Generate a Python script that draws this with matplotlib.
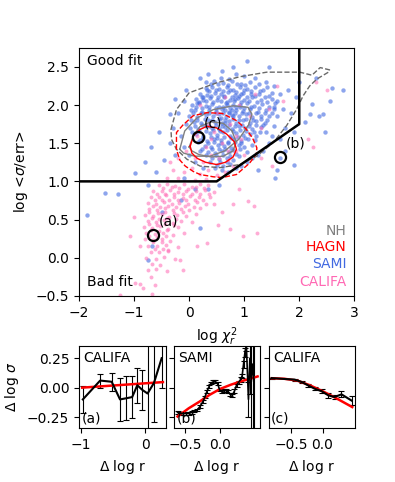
import numpy as np
import matplotlib
matplotlib.use('Agg')
import matplotlib.pyplot as plt

# --- main panel data ---
sami_pts = np.array([
    (0.45,2.31),(0.62,2.29),(0.78,2.32),(0.95,2.28),(1.1,2.3),
    (0.3,2.22),(0.42,2.24),(0.55,2.21),(0.68,2.23),(0.8,2.2),(0.92,2.24),(1.05,2.21),(1.2,2.23),(1.35,2.2),
    (0.2,2.15),(0.33,2.13),(0.47,2.16),(0.58,2.14),(0.7,2.17),(0.83,2.13),(0.97,2.16),(1.12,2.14),(1.27,2.15),(1.45,2.12),
    (0.12,2.08),(0.25,2.06),(0.38,2.09),(0.5,2.07),(0.63,2.1),(0.75,2.06),(0.88,2.09),(1.0,2.07),(1.15,2.1),(1.3,2.06),(1.5,2.08),
    (0.05,2.0),(0.18,2.02),(0.3,1.99),(0.42,2.01),(0.55,1.98),(0.67,2.02),(0.8,2.0),(0.92,1.98),(1.05,2.02),(1.18,1.99),(1.33,2.01),(1.55,1.98),
    (0.1,1.93),(0.24,1.91),(0.37,1.94),(0.48,1.92),(0.6,1.95),(0.72,1.91),(0.85,1.94),(0.98,1.92),(1.1,1.95),(1.25,1.91),(1.4,1.93),
    (0.0,1.86),(0.15,1.84),(0.3,1.87),(0.43,1.85),(0.55,1.88),(0.67,1.84),(0.78,1.87),(0.9,1.85),(1.03,1.88),(1.15,1.84),(1.3,1.86),(1.45,1.85),
    (0.08,1.78),(0.22,1.77),(0.35,1.8),(0.47,1.78),(0.6,1.76),(0.72,1.79),(0.85,1.77),(0.97,1.8),(1.1,1.76),(1.22,1.79),(1.38,1.77),
    (0.02,1.7),(0.17,1.69),(0.3,1.72),(0.42,1.7),(0.55,1.68),(0.66,1.71),(0.78,1.69),(0.9,1.72),(1.02,1.7),(1.15,1.68),(1.3,1.71),
    (0.12,1.62),(0.25,1.6),(0.38,1.63),(0.5,1.61),(0.62,1.64),(0.74,1.6),(0.86,1.63),(0.98,1.61),(1.1,1.62),(1.22,1.6),
    (0.2,1.54),(0.33,1.53),(0.45,1.56),(0.57,1.54),(0.7,1.52),(0.82,1.55),(0.95,1.53),(1.07,1.55),
    (0.28,1.46),(0.4,1.45),(0.52,1.48),(0.64,1.46),(0.76,1.44),(0.9,1.47),(1.0,1.45),
    (0.35,1.38),(0.47,1.37),(0.6,1.4),(0.72,1.38),(0.85,1.36),
    (0.42,1.3),(0.55,1.29),(0.68,1.31),(0.8,1.28),
    (0.5,1.22),(0.62,1.2),(0.74,1.23),
    (0.53,2.27),(0.7,2.26),(0.87,2.27),(1.02,2.26),
    (0.36,2.18),(0.49,2.19),(0.62,2.18),(0.74,2.19),(0.86,2.17),(0.99,2.19),(1.13,2.18),(1.28,2.18),
    (0.26,2.11),(0.4,2.12),(0.52,2.11),(0.64,2.12),(0.77,2.11),(0.9,2.12),(1.05,2.11),(1.2,2.12),(1.37,2.1),
    (0.18,2.04),(0.31,2.05),(0.44,2.04),(0.57,2.05),(0.69,2.04),(0.82,2.05),(0.94,2.04),(1.08,2.05),(1.24,2.04),(1.42,2.04),
    (0.12,1.97),(0.24,1.96),(0.36,1.97),(0.49,1.96),(0.61,1.97),(0.74,1.96),(0.86,1.97),(0.99,1.96),(1.12,1.97),(1.26,1.96),(1.45,1.97),
    (0.07,1.89),(0.22,1.9),(0.37,1.89),(0.49,1.9),(0.61,1.89),(0.73,1.9),(0.84,1.89),(0.96,1.9),(1.09,1.89),(1.22,1.9),(1.37,1.89),
    (0.15,1.81),(0.28,1.82),(0.41,1.81),(0.54,1.82),(0.66,1.81),(0.79,1.82),(0.91,1.81),(1.04,1.82),(1.16,1.81),(1.3,1.82),
    (0.1,1.73),(0.24,1.74),(0.36,1.73),(0.49,1.74),(0.6,1.73),(0.72,1.74),(0.84,1.73),(0.96,1.74),(1.08,1.73),(1.22,1.74),
    (0.18,1.66),(0.31,1.66),(0.44,1.67),(0.56,1.66),(0.68,1.67),(0.8,1.66),(0.92,1.67),(1.04,1.66),(1.17,1.65),
    (0.26,1.57),(0.39,1.58),(0.51,1.57),(0.63,1.58),(0.76,1.57),(0.88,1.58),(1.01,1.57),
    (0.34,1.5),(0.46,1.51),(0.58,1.5),(0.7,1.5),(0.83,1.51),(0.95,1.5),
    (0.41,1.42),(0.54,1.42),(0.66,1.43),(0.79,1.41),(0.92,1.42),
    (0.48,1.34),(0.62,1.34),(0.75,1.33),
    (0.56,1.26),(0.69,1.26),
    (0.58,2.35),(0.72,2.34),(0.4,2.27),(0.33,2.19),(0.23,2.1),(0.14,2.02),(0.04,1.93),(0.03,1.81),(0.06,1.64),
    (0.16,1.51),(0.24,1.43),(0.31,1.34),(0.38,1.25),(0.47,1.17),(0.6,1.15),(0.9,1.33),(1.05,1.39),(1.14,1.47),
    (1.2,1.54),(1.28,1.64),(1.35,1.74),(1.42,1.81),(1.5,1.9),(1.56,2.03),(1.5,2.16),(1.42,2.24),(1.26,2.28),
    (0.65,1.93),(0.78,1.93),(0.92,2.0),(0.95,2.14),(0.83,2.08),(0.69,2.0),(0.57,1.83),(0.66,1.76),(0.8,1.85),
    (-0.2,1.9),(-0.1,2.05),(-0.05,1.75),(-0.15,1.6),(-0.3,1.7),(-0.35,1.5),(-0.1,1.45),(0.0,1.35),(-0.25,1.35),
    (0.1,1.25),(0.25,1.18),(0.2,1.4),(0.3,2.3),(0.2,2.35),(0.6,2.45),(0.85,2.4),(1.0,2.38),(1.2,2.35),(1.4,2.3),
    (1.55,2.25),(1.65,2.15),(1.6,2.05),(1.7,1.95),(1.6,1.85),(1.55,1.72),(1.5,1.6),(1.45,1.5),(1.35,1.4),(1.25,1.35),
    (1.15,1.3),(1.05,1.25),(0.95,1.2),(0.85,1.18),(0.7,1.12),(1.85,1.9),(1.8,2.2),(1.95,2.1),(1.75,1.7),(1.9,1.65),
    (1.4,1.65),(1.55,1.95),(1.65,1.55),
    (-1.86,0.56),(-1.53,0.85),(-1.29,0.83),(-0.98,1.11),(-0.8,1.25),(-0.6,1.12),(-0.45,1.28),(-0.55,1.65),(-0.35,1.88),
    (-0.25,2.08),(-0.05,2.2),(-0.7,1.45),(-0.75,0.95),(-0.74,-0.03),(-0.68,0.15),(-0.5,0.6),(-0.15,0.75),(0.2,0.39),
    (0.35,0.9),(0.55,0.95),(1.25,1.15),(1.6,1.15),(1.56,1.05),(1.65,1.31),(1.75,1.4),(1.9,1.22),(2.1,1.78),(2.2,1.88),
    (2.35,1.85),(2.44,1.88),(2.23,2.01),(2.47,1.64),(2.55,2.05),(2.8,2.2),(2.6,2.22),(2.0,2.3),(2.3,2.35),(1.45,2.5),
    (1.05,2.58),(0.8,2.5),(0.35,2.4),(-0.1,1.05),(0.1,0.9),
])

califa_pts = np.array([
    (-0.55,0.95),(-0.4,0.97),(-0.25,0.94),(-0.1,0.96),(0.05,0.93),(0.2,0.97),(0.35,0.95),
    (-0.65,0.88),(-0.5,0.87),(-0.35,0.89),(-0.2,0.86),(-0.05,0.88),(0.12,0.87),(0.28,0.89),(0.45,0.86),
    (-0.7,0.8),(-0.55,0.79),(-0.42,0.82),(-0.28,0.8),(-0.12,0.78),(0.02,0.81),(0.18,0.79),(0.38,0.8),
    (-0.75,0.72),(-0.6,0.71),(-0.45,0.73),(-0.32,0.7),(-0.18,0.72),(-0.02,0.71),(0.15,0.73),(0.3,0.7),
    (-0.72,0.64),(-0.58,0.63),(-0.43,0.65),(-0.3,0.62),(-0.15,0.64),(0.0,0.63),(0.2,0.65),
    (-0.8,0.56),(-0.65,0.55),(-0.5,0.57),(-0.36,0.54),(-0.22,0.56),(-0.05,0.55),(0.12,0.57),
    (-0.75,0.48),(-0.6,0.47),(-0.46,0.49),(-0.3,0.46),(-0.15,0.48),(0.05,0.47),
    (-0.82,0.4),(-0.68,0.39),(-0.52,0.41),(-0.38,0.38),(-0.2,0.4),
    (-0.78,0.32),(-0.62,0.31),(-0.48,0.33),(-0.3,0.3),(-0.1,0.32),
    (-0.8,0.24),(-0.65,0.23),(-0.5,0.25),(-0.35,0.22),
    (-0.75,0.16),(-0.58,0.15),(-0.42,0.17),(-0.2,0.14),
    (-0.7,0.08),(-0.55,0.07),(-0.38,0.09),
    (-0.78,0.0),(-0.6,-0.01),(-0.45,0.01),(-0.25,-0.02),
    (-0.68,-0.08),(-0.52,-0.09),
    (-0.75,-0.16),(-0.6,-0.15),(-0.4,-0.17),
    (-0.7,-0.25),(-0.9,-0.35),(-0.62,-0.36),
    (-0.48,0.91),(-0.32,0.92),(-0.18,0.91),(-0.02,0.9),(0.12,0.92),(0.27,0.91),
    (-0.58,0.84),(-0.43,0.84),(-0.28,0.83),(-0.12,0.84),(0.05,0.83),(0.2,0.84),(0.36,0.83),
    (-0.62,0.76),(-0.5,0.75),(-0.36,0.76),(-0.2,0.75),(-0.05,0.76),(0.1,0.75),(0.25,0.76),
    (-0.66,0.68),(-0.52,0.67),(-0.38,0.68),(-0.24,0.67),(-0.08,0.68),(0.08,0.67),
    (-0.72,0.6),(-0.57,0.59),(-0.44,0.6),(-0.28,0.59),(-0.12,0.6),
    (-0.68,0.52),(-0.54,0.51),(-0.4,0.52),(-0.24,0.51),
    (-0.72,0.44),(-0.58,0.43),(-0.44,0.44),(-0.28,0.43),
    (-0.7,0.36),(-0.55,0.35),(-0.4,0.36),
    (-0.72,0.28),(-0.58,0.27),(-0.42,0.28),
    (-0.66,0.2),(-0.5,0.2),(-0.62,0.12),(-0.48,0.12),
    (-0.3,1.15),(-0.1,1.12),(0.05,1.18),(0.2,1.1),(0.35,1.15),(0.5,1.08),(0.65,1.12),(0.8,1.2),(-0.2,1.05),
    (0.1,1.02),(-0.4,1.05),(0.3,1.03),
    (0.1,1.3),(0.25,1.25),(0.4,1.35),(0.55,1.3),(0.7,1.28),(0.3,1.45),(0.6,1.5),(0.85,1.4),(0.15,1.6),
    (0.45,1.65),(0.75,1.75),(0.95,1.55),(0.5,1.9),(0.9,2.0),(1.1,1.85),(1.3,1.7),(0.65,2.1),(1.2,2.15),
    (1.45,1.95),(1.7,2.05),(1.6,2.25),(2.3,2.3),(2.5,2.2),(2.15,1.55),(2.25,1.45),(0.2,2.0),(-0.05,1.4),
    (-0.2,1.3),(-0.35,1.25),(1.3,1.3),(1.5,1.2),(0.4,1.55),(0.7,1.4),(0.85,1.6),(0.35,1.75),(1.0,1.35),
    (0.8,0.7),(1.07,0.74),(1.17,0.68),(0.53,0.43),(0.98,0.28),(0.74,0.37),(0.32,0.19),(-0.11,-0.16),
    (-0.17,-0.03),(-0.38,0.1),(-0.68,-0.47),(-0.83,-0.4),(-1.26,-0.49),(-0.98,-0.33),(-1.07,0.28),
    (-0.89,0.15),(-1.01,0.54),(1.23,0.32),(0.6,0.6),(0.45,0.7),(0.9,0.9),(0.15,0.15),
])

# contours
nh_outer_x = [-0.33,-0.23,0.0,0.5,0.92,1.41,1.71,2.01,2.23,2.38,2.55,2.53,2.32,2.19,2.07,1.95,1.77,1.53,1.23,0.92,0.56,0.2,-0.04,-0.23,-0.32,-0.33]
nh_outer_y = [1.68,1.94,2.16,2.29,2.37,2.43,2.43,2.43,2.39,2.49,2.46,2.43,2.34,2.25,2.12,1.94,1.73,1.51,1.33,1.22,1.18,1.20,1.29,1.42,1.55,1.68]
nh_mid_x = [-0.17,-0.08,0.14,0.44,0.8,1.07,1.14,1.08,0.9,0.65,0.38,0.1,-0.1,-0.17]
nh_mid_y = [1.42,1.66,1.83,1.94,1.99,1.97,1.88,1.74,1.55,1.40,1.33,1.33,1.37,1.42]
nh_in_x = [0.0,0.08,0.2,0.4,0.62,0.78,0.85,0.8,0.62,0.4,0.18,0.05,0.0]
nh_in_y = [1.45,1.6,1.72,1.78,1.76,1.66,1.52,1.40,1.33,1.32,1.35,1.4,1.45]
hagn_out_x = [-0.23,-0.23,-0.11,0.075,0.32,0.6,0.85,1.03,1.15,1.23,1.22,1.1,0.86,0.6,0.44,0.2,0.075,-0.07,-0.17,-0.23]
hagn_out_y = [1.42,1.64,1.74,1.86,1.90,1.89,1.80,1.69,1.57,1.44,1.36,1.24,1.09,1.05,1.06,1.09,1.13,1.2,1.28,1.42]
hagn_in_x = [0.02,0.08,0.2,0.32,0.5,0.68,0.82,0.86,0.8,0.66,0.5,0.3,0.15,0.05,0.02]
hagn_in_y = [1.46,1.6,1.68,1.72,1.7,1.62,1.52,1.42,1.32,1.25,1.22,1.25,1.3,1.37,1.46]

cut_x = [-2, 0.5, 2, 2]
cut_y = [1.0, 1.0, 1.75, 2.9]

ex_x = [-0.66, 1.65, 0.167]
ex_y = [0.30, 1.32, 1.58]
ex_lab = ['(a)', '(b)', '(c)']

# --- bottom panels ---
a_x = [-0.97, -0.70, -0.52, -0.39, -0.29, -0.20, -0.12, -0.04, 0.04, 0.14, 0.26]
a_y = [-0.10, 0.06, 0.05, -0.10, -0.09, -0.08, 0.02, -0.02, -0.05, 0.04, 0.25]
a_err = [0.115, 0.06, 0.075, 0.185, 0.185, 0.18, 0.15, 0.17, 0.6, 0.33, 0.25]
a_fit_x = [-0.98, 0.28]
a_fit_y = [0.0, 0.047]

b_x = [-0.61,-0.57,-0.53,-0.49,-0.45,-0.41,-0.37,-0.33,-0.29,-0.25,-0.22,-0.19,-0.16,-0.13,-0.10,-0.07,
       -0.04,-0.01,0.02,0.05,0.08,0.11,0.14,0.17,0.2,0.23,0.26,0.29,0.31,0.33,0.35,0.37,0.40,0.42,0.44,0.46,0.48]
b_y = [-0.21,-0.22,-0.22,-0.22,-0.22,-0.21,-0.20,-0.19,-0.16,-0.12,-0.08,-0.03,0.01,0.04,0.05,0.05,
       0.035,-0.02,-0.035,-0.025,-0.025,-0.035,-0.055,-0.065,-0.03,0.02,0.045,0.07,0.10,0.20,0.30,0.36,-0.10,0.25,0.05,0.20,0.05]
b_err = [0.01,0.01,0.01,0.01,0.01,0.01,0.01,0.01,0.012,0.012,0.012,0.012,0.012,0.012,0.012,0.012,
         0.012,0.012,0.012,0.012,0.012,0.012,0.012,0.012,0.015,0.015,0.015,0.02,0.02,0.03,0.04,0.05,0.15,0.3,0.45,0.55,0.4]
b_fit_x = [-0.61, -0.45, -0.3, -0.15, 0.0, 0.15, 0.3, 0.45, 0.53]
b_fit_y = [-0.245, -0.175, -0.12, -0.06, -0.01, 0.025, 0.055, 0.08, 0.095]

c_x = [-0.805, -0.44, -0.33, -0.23, -0.12, -0.016, 0.09, 0.19, 0.30, 0.46]
c_y = [0.081, 0.068, 0.048, 0.02, -0.01, -0.03, -0.065, -0.08, -0.057, -0.11]
c_err = [0.005, 0.008, 0.01, 0.012, 0.012, 0.015, 0.02, 0.02, 0.025, 0.04]
c_fit_x = [-0.8, -0.6, -0.4, -0.2, 0.0, 0.2, 0.47]
c_fit_y = [0.08, 0.075, 0.06, 0.02, -0.03, -0.085, -0.165]

fig = plt.figure(figsize=(3.95, 4.82), dpi=100)

ax = fig.add_axes([0.2, 0.386, 0.697, 0.515])
ax.scatter(sami_pts[:, 0], sami_pts[:, 1], s=10, color='royalblue', alpha=0.6, lw=0)
ax.scatter(califa_pts[:, 0], califa_pts[:, 1], s=8, color='hotpink', alpha=0.55, lw=0)
ax.plot(nh_outer_x, nh_outer_y, color='dimgray', ls='--', lw=1)
ax.plot(nh_mid_x, nh_mid_y, color='gray', lw=1)
ax.plot(nh_in_x, nh_in_y, color='gray', lw=1)
ax.plot(hagn_out_x, hagn_out_y, color='red', ls='--', lw=1)
ax.plot(hagn_in_x, hagn_in_y, color='red', lw=1)
ax.plot(cut_x, cut_y, color='black', lw=1.8)
ax.plot(ex_x, ex_y, 'o', ms=8, mfc='none', mec='black', mew=1.6)
for x, y, l in zip(ex_x, ex_y, ex_lab):
    ax.text(x + 0.1, y + 0.08, l, fontsize=10, ha='left', va='bottom')
ax.set_xlim(-2, 3)
ax.set_ylim(-0.5, 2.75)
ax.set_xticks([-2, -1, 0, 1, 2, 3])
ax.set_yticks([-0.5, 0.0, 0.5, 1.0, 1.5, 2.0, 2.5])
ax.set_xlabel(r'log $\chi_r^2$')
ax.set_ylabel(r'log <$\sigma$/err>')
ax.text(0.03, 0.945, 'Good fit', transform=ax.transAxes, va='center')
ax.text(0.03, 0.055, 'Bad fit', transform=ax.transAxes, va='center')
for lab, col, yy in [('NH', 'gray', 0.263), ('HAGN', 'red', 0.196),
                     ('SAMI', 'royalblue', 0.128), ('CALIFA', 'hotpink', 0.055)]:
    ax.text(0.972, yy, lab, color=col, transform=ax.transAxes, ha='right', va='center')

w = 0.219
bot, h = 0.111, 0.172
ax1 = fig.add_axes([0.2, bot, w, h])
ax2 = fig.add_axes([0.4397, bot, w, h], sharey=ax1)
ax3 = fig.add_axes([0.680, bot, w, h], sharey=ax1)

eb = dict(color='black', lw=1.5, elinewidth=0.8, capsize=2.5, capthick=0.8)
ax1.errorbar(a_x, a_y, yerr=a_err, **eb)
ax1.plot(a_fit_x, a_fit_y, color='red', lw=1.8)
ax1.set_xlim(-1.03, 0.32)
ax1.set_xticks([-1, 0])

ax2.errorbar(b_x, b_y, yerr=b_err, **dict(eb, lw=1.2, capsize=2))
ax2.plot(b_fit_x, b_fit_y, color='red', lw=1.8)
ax2.set_xlim(-0.665, 0.567)
ax2.set_xticks([-0.5, 0.0])

ax3.errorbar(c_x, c_y, yerr=c_err, **eb)
ax3.plot(c_fit_x, c_fit_y, color='red', lw=1.8)
ax3.set_xlim(-0.852, 0.515)
ax3.set_xticks([-0.5, 0.0])

ax1.set_ylim(-0.347, 0.357)
ax1.set_yticks([-0.25, 0.0, 0.25])
ax1.set_ylabel(r'$\Delta$ log $\sigma$')
for a, name, tag in [(ax1, 'CALIFA', '(a)'), (ax2, 'SAMI', '(b)'), (ax3, 'CALIFA', '(c)')]:
    a.text(0.05, 0.93, name, transform=a.transAxes, va='top', ha='left')
    a.text(0.03, 0.04, tag, transform=a.transAxes, va='bottom', ha='left')
    a.set_xlabel(r'$\Delta$ log r')
plt.setp(ax2.get_yticklabels(), visible=False)
plt.setp(ax3.get_yticklabels(), visible=False)

fig.savefig('out.png', dpi=100)
